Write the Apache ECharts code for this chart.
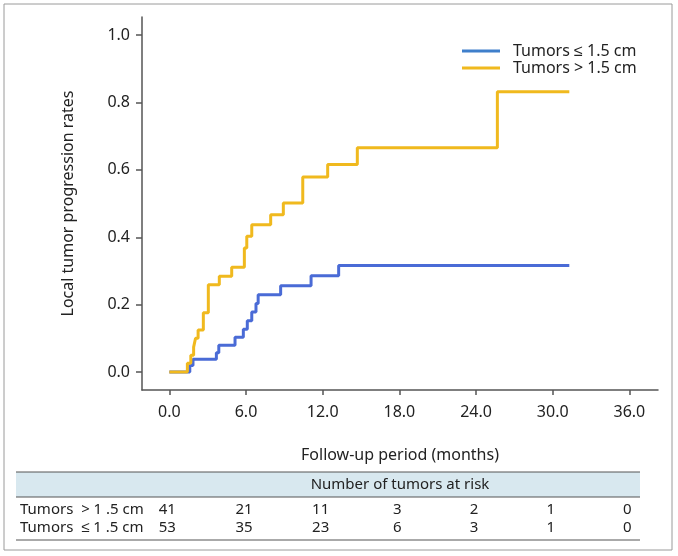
<!DOCTYPE html>
<html>
<head>
<meta charset="utf-8">
<script src="https://cdn.jsdelivr.net/npm/echarts@6/dist/echarts.min.js"></script>
<style>
html,body{margin:0;padding:0;background:#fff;}
#chart{width:678px;height:556px;}
</style>
</head>
<body>
<div id="chart"></div>
<script>
// ---- data ----
const seriesNames = ['Tumors \u2264 1.5 cm', 'Tumors > 1.5 cm'];
// [months, cumulative local tumor progression rate]
const smallTumors = [[0,0],[1.6,0.019],[1.85,0.038],[3.68,0.057],[3.87,0.079],[5.14,0.103],[5.79,0.127],[6.1,0.152],[6.45,0.178],[6.78,0.203],[6.95,0.229],[8.71,0.256],[11.09,0.286],[13.25,0.316],[31.3,0.316]];
const largeTumors = [[0,0],[1.41,0.026],[1.68,0.05],[1.9,0.074],[2.05,0.1],[2.25,0.125],[2.66,0.176],[3.05,0.259],[3.91,0.284],[4.88,0.311],[5.87,0.368],[6.06,0.403],[6.45,0.437],[7.93,0.467],[8.92,0.502],[10.44,0.579],[12.39,0.616],[14.71,0.666],[25.67,0.832],[31.3,0.832]];
const xTicks = [0, 6, 12, 18, 24, 30, 36];
const yTicks = [0, 0.2, 0.4, 0.6, 0.8, 1.0];
const riskTimes = [0, 6, 12, 18, 24, 30, 36];
const riskRowLabels = ['Tumors  > 1 .5 cm', 'Tumors  \u2264 1 .5 cm'];
const riskLarge = [41, 21, 11, 3, 2, 1, 0];
const riskSmall = [53, 35, 23, 6, 3, 1, 0];
const riskTitle = 'Number of tumors at risk';

const FONT = '"Noto Sans", sans-serif';
const BLUE = '#4a6bd6';
const YELLOW = '#f0b91e';

const chart = echarts.init(document.getElementById('chart'), null, {renderer: 'canvas'});
const option = {
  animation: false,
  backgroundColor: '#fff',
  textStyle: {fontFamily: FONT},
  grid: {left: 142, right: 20, top: 17, bottom: 166, containLabel: false},
  legend: {
    orient: 'vertical', left: 457, top: 38, itemGap: 1,
    itemWidth: 38, itemHeight: 3, icon: 'rect',
    textStyle: {fontFamily: FONT, fontSize: 16, color: '#222', lineHeight: 16, padding: [0, 0, 0, 8]},
    data: [{name: seriesNames[0], itemStyle: {color: '#3f7fcb'}}, {name: seriesNames[1], itemStyle: {color: YELLOW}}]
  },
  xAxis: {
    type: 'value', min: -2.14, max: 38.24,
    name: 'Follow-up period (months)', nameLocation: 'middle', nameGap: 57,
    nameTextStyle: {fontFamily: FONT, fontSize: 16, color: '#222'},
    axisLine: {onZero: false, lineStyle: {color: '#555', width: 1.5}},
    axisTick: {show: true, customValues: xTicks, length: 5, lineStyle: {color: '#555', width: 1.5}},
    axisLabel: {customValues: xTicks, margin: 14, fontFamily: FONT, fontSize: 16, color: '#222',
      formatter: v => v.toFixed(1)},
    splitLine: {show: false}
  },
  yAxis: {
    type: 'value', min: -0.0535, max: 1.054,
    name: 'Local tumor progression rates', nameLocation: 'middle', nameRotate: 90, nameGap: 66,
    nameTextStyle: {fontFamily: FONT, fontSize: 16, color: '#222'},
    axisLine: {show: true, onZero: false, lineStyle: {color: '#555', width: 1.5}},
    axisTick: {show: true, customValues: yTicks, length: 6, lineStyle: {color: '#555', width: 1.5}},
    axisLabel: {customValues: yTicks, margin: 12, fontFamily: FONT, fontSize: 16, color: '#222',
      formatter: v => v.toFixed(1)},
    splitLine: {show: false}
  },
  series: [
    {name: seriesNames[0], type: 'line', step: 'end', data: smallTumors, showSymbol: false,
      lineStyle: {color: BLUE, width: 3}, itemStyle: {color: BLUE}, z: 2},
    {name: seriesNames[1], type: 'line', step: 'end', data: largeTumors, showSymbol: false,
      lineStyle: {color: YELLOW, width: 3}, itemStyle: {color: YELLOW}, z: 3}
  ]
};
chart.setOption(option);

// risk table, columns aligned to the x axis scale
const graphics = [
  {type: 'rect', shape: {x: 4, y: 4, width: 668, height: 546}, style: {fill: 'none', stroke: '#9a9a9a', lineWidth: 1}, silent: true},
  {type: 'rect', shape: {x: 16, y: 472, width: 624, height: 25}, style: {fill: '#d8e8ef'}, silent: true},
  {type: 'line', shape: {x1: 16, y1: 472, x2: 640, y2: 472}, style: {stroke: '#555', lineWidth: 1}},
  {type: 'line', shape: {x1: 16, y1: 497, x2: 640, y2: 497}, style: {stroke: '#555', lineWidth: 1}},
  {type: 'line', shape: {x1: 16, y1: 540, x2: 640, y2: 540}, style: {stroke: '#555', lineWidth: 1}},
  {type: 'text', x: 400, y: 485, style: {text: riskTitle, fontFamily: FONT, fontSize: 15, fill: '#222', align: 'center', verticalAlign: 'middle'}},
  {type: 'text', x: 20, y: 510, style: {text: riskRowLabels[0], fontFamily: FONT, fontSize: 15, fill: '#222', align: 'left', verticalAlign: 'middle'}},
  {type: 'text', x: 20, y: 528, style: {text: riskRowLabels[1], fontFamily: FONT, fontSize: 15, fill: '#222', align: 'left', verticalAlign: 'middle'}}
];
riskTimes.forEach((t, i) => {
  const px = chart.convertToPixel({xAxisIndex: 0}, t);
  graphics.push({type: 'text', x: px - 2, y: 510, style: {text: String(riskLarge[i]), fontFamily: FONT, fontSize: 15, fill: '#222', align: 'center', verticalAlign: 'middle'}});
  graphics.push({type: 'text', x: px - 2, y: 528, style: {text: String(riskSmall[i]), fontFamily: FONT, fontSize: 15, fill: '#222', align: 'center', verticalAlign: 'middle'}});
});
chart.setOption({graphic: graphics});
</script>
</body>
</html>
